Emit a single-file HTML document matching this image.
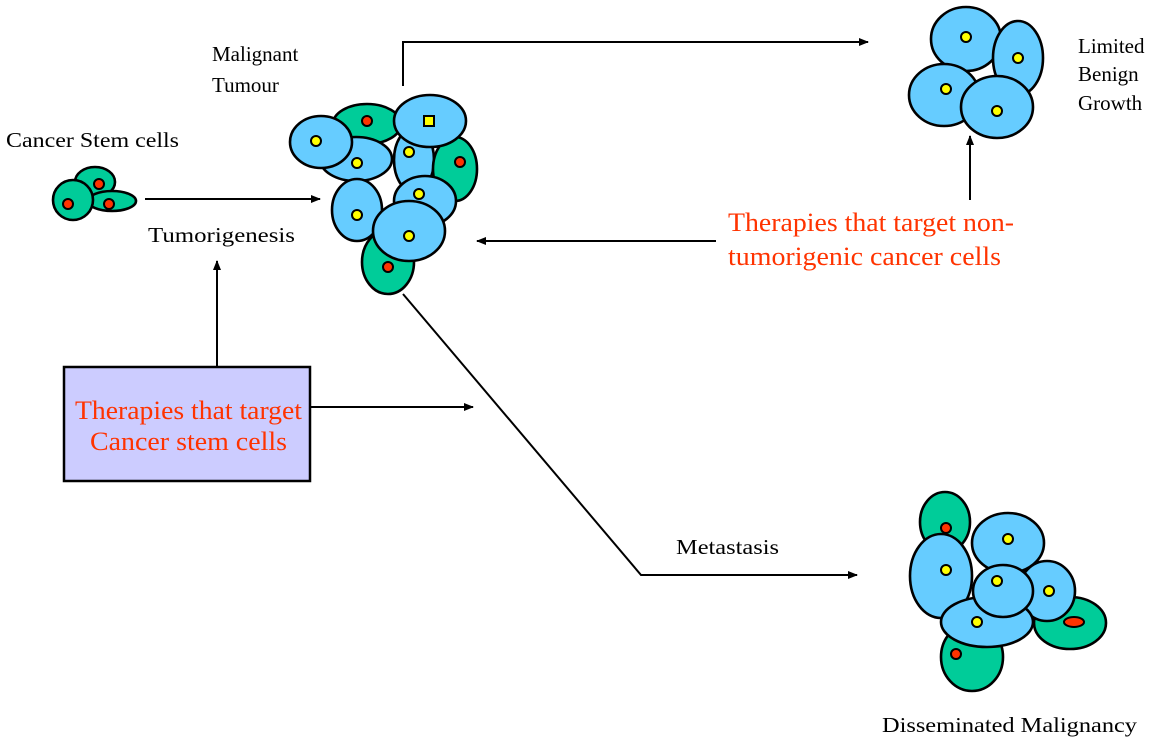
<!DOCTYPE html>
<html><head><meta charset="utf-8"><style>
html,body{margin:0;padding:0;background:#fff;}
svg{display:block;}
text{font-family:"Liberation Serif",serif;}
.b{fill:#66CCFF;stroke:#000;stroke-width:2.6;}
.g{fill:#00CC99;stroke:#000;stroke-width:2.6;}
.y{fill:#FFFF00;stroke:#000;stroke-width:2;}
.r{fill:#FF3300;stroke:#000;stroke-width:2;}
.l{stroke:#000;stroke-width:2;fill:none;}
.t{font-size:21px;fill:#000;}
.rt{font-size:26px;fill:#FF3300;}
</style></head><body>
<svg width="1171" height="749" viewBox="0 0 1171 749" xmlns="http://www.w3.org/2000/svg">
<defs><marker id="a" markerWidth="10" markerHeight="8" refX="9" refY="4" orient="auto" markerUnits="userSpaceOnUse"><path d="M0,0 L10,4 L0,8 z" fill="#000"/></marker></defs>

<ellipse class="g" cx="95" cy="182" rx="20" ry="15"/><circle class="r" cx="99" cy="184" r="5"/>
<ellipse class="g" cx="112" cy="201" rx="24" ry="10"/><circle class="r" cx="109" cy="204" r="5"/>
<ellipse class="g" cx="73" cy="200" rx="20" ry="20"/><circle class="r" cx="68" cy="204" r="5"/>

<ellipse class="g" cx="367" cy="124" rx="34" ry="20"/><circle class="r" cx="367" cy="121" r="5"/>
<ellipse class="b" cx="414" cy="160" rx="20" ry="32"/><circle class="y" cx="409" cy="152" r="5"/>
<ellipse class="g" cx="455" cy="169" rx="22" ry="32"/><circle class="r" cx="460" cy="162" r="5"/>
<ellipse class="b" cx="356" cy="159" rx="36" ry="22"/><circle class="y" cx="357" cy="163" r="5"/>
<ellipse class="b" cx="321" cy="142" rx="31" ry="26"/><circle class="y" cx="316" cy="141" r="5"/>
<ellipse class="b" cx="430" cy="121" rx="36" ry="26"/><rect x="424" y="116" width="10" height="10" fill="#FFFF00" stroke="#000" stroke-width="2"/>
<ellipse class="b" cx="357" cy="210" rx="25" ry="31"/><circle class="y" cx="357" cy="215" r="5"/>
<ellipse class="b" cx="425" cy="201" rx="31" ry="25"/><circle class="y" cx="419" cy="194" r="5"/>
<ellipse class="g" cx="388" cy="262" rx="26" ry="32"/><circle class="r" cx="388" cy="267" r="5"/>
<ellipse class="b" cx="409" cy="231" rx="36" ry="30"/><circle class="y" cx="409" cy="236" r="5"/>

<ellipse class="b" cx="966" cy="39" rx="35" ry="32"/><circle class="y" cx="966" cy="37" r="5"/>
<ellipse class="b" cx="944" cy="95" rx="35" ry="31"/><circle class="y" cx="946" cy="89" r="5"/>
<ellipse class="b" cx="1018" cy="58" rx="25" ry="37"/><circle class="y" cx="1018" cy="58" r="5"/>
<ellipse class="b" cx="997" cy="107" rx="36" ry="31"/><circle class="y" cx="997" cy="111" r="5"/>

<ellipse class="g" cx="945" cy="522" rx="25" ry="30"/><circle class="r" cx="946" cy="528" r="5"/>
<ellipse class="b" cx="941" cy="576" rx="31" ry="42"/><circle class="y" cx="946" cy="570" r="5"/>
<ellipse class="b" cx="1008" cy="543" rx="36" ry="30"/><circle class="y" cx="1008" cy="539" r="5"/>
<ellipse class="g" cx="1070" cy="623" rx="36" ry="26"/><ellipse class="r" cx="1074" cy="622" rx="10" ry="5"/>
<ellipse class="b" cx="1047" cy="591" rx="28" ry="30"/><circle class="y" cx="1049" cy="591" r="5"/>
<ellipse class="g" cx="972" cy="657" rx="31" ry="34"/><circle class="r" cx="956" cy="654" r="5"/>
<ellipse class="b" cx="987" cy="622" rx="46" ry="25"/><circle class="y" cx="977" cy="622" r="5"/>
<ellipse class="b" cx="1003" cy="591" rx="30" ry="26"/><circle class="y" cx="997" cy="581" r="5"/>

<line class="l" x1="145" y1="199" x2="320" y2="199" marker-end="url(#a)"/>
<line class="l" x1="217" y1="366" x2="217" y2="261" marker-end="url(#a)"/>
<line class="l" x1="311" y1="407" x2="473" y2="407" marker-end="url(#a)"/>
<polyline class="l" points="403,86 403,42 868,42" marker-end="url(#a)"/>
<line class="l" x1="716" y1="241" x2="477" y2="241" marker-end="url(#a)"/>
<line class="l" x1="970" y1="200" x2="970" y2="136" marker-end="url(#a)"/>
<polyline class="l" points="403,294 641,575 857,575" marker-end="url(#a)"/>

<rect x="64" y="367" width="246" height="114" fill="#CCCCFF" stroke="#000" stroke-width="2.5"/>
<text class="rt" x="75" y="419" textLength="227" lengthAdjust="spacingAndGlyphs">Therapies that target</text>
<text class="rt" x="90" y="450" textLength="197" lengthAdjust="spacingAndGlyphs">Cancer stem cells</text>

<text class="t" x="212" y="61">Malignant</text>
<text class="t" x="212" y="92">Tumour</text>
<text class="t" x="6" y="147" textLength="173" lengthAdjust="spacingAndGlyphs">Cancer Stem cells</text>
<text class="t" x="148" y="242" textLength="147" lengthAdjust="spacingAndGlyphs">Tumorigenesis</text>
<text class="t" x="1078" y="53">Limited</text>
<text class="t" x="1078" y="81">Benign</text>
<text class="t" x="1078" y="110">Growth</text>
<text class="rt" x="728" y="231" textLength="286" lengthAdjust="spacingAndGlyphs">Therapies that target non-</text>
<text class="rt" x="728" y="265" textLength="273" lengthAdjust="spacingAndGlyphs">tumorigenic cancer cells</text>
<text class="t" x="676" y="554" textLength="103" lengthAdjust="spacingAndGlyphs">Metastasis</text>
<text class="t" x="882" y="732" textLength="255" lengthAdjust="spacingAndGlyphs">Disseminated Malignancy</text>
</svg>
</body></html>
